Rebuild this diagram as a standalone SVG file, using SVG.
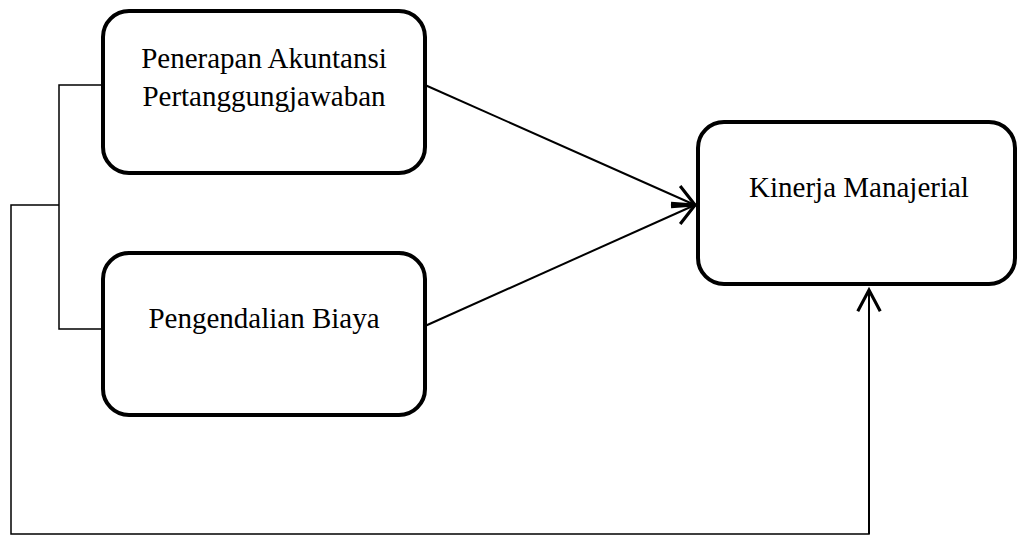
<svg xmlns="http://www.w3.org/2000/svg" width="1018" height="536" viewBox="0 0 1018 536">
<style>
.box{fill:#fff;stroke:#000;stroke-width:4}
.lbl{font-family:"Liberation Serif","Times New Roman",serif;font-size:29px;fill:#000;text-anchor:middle}
.conn{fill:none;stroke:#000;stroke-width:2}
.thin{fill:none;stroke:#000;stroke-width:1.5}
</style>
<defs>
<marker id="arr" markerUnits="userSpaceOnUse" markerWidth="30" markerHeight="30" viewBox="-20 -12 24 24" refX="0" refY="0" orient="auto" overflow="visible">
<path d="M-17,-9 L0,0 L-17,9" fill="none" stroke="#000" stroke-width="2.5"/>
</marker>
</defs>
<rect width="1018" height="536" fill="#fff"/>
<g id="connectors">
<polyline class="thin" points="103,85 59,85 59,329 103,329"/>
<polyline class="thin" points="59,205 11,205 11,534 869,534 869,301"/>
<line class="conn" x1="869" y1="534" x2="869" y2="290" marker-end="url(#arr)"/>
<line class="conn" x1="425" y1="85" x2="695" y2="205" marker-end="url(#arr)"/>
<line class="conn" x1="425" y1="326" x2="695" y2="205" marker-end="url(#arr)"/>
</g>
<g id="node-penerapan">
<rect class="box" x="103" y="11" width="322" height="162" rx="26"/>
<text class="lbl" x="264" y="68">Penerapan Akuntansi</text>
<text class="lbl" x="264" y="106">Pertanggungjawaban</text>
</g>
<g id="node-pengendalian">
<rect class="box" x="103" y="253" width="322" height="162" rx="26"/>
<text class="lbl" x="264" y="328">Pengendalian Biaya</text>
</g>
<g id="node-kinerja">
<rect class="box" x="698" y="122" width="317" height="162" rx="26"/>
<text class="lbl" x="859" y="197">Kinerja Manajerial</text>
</g>
</svg>
